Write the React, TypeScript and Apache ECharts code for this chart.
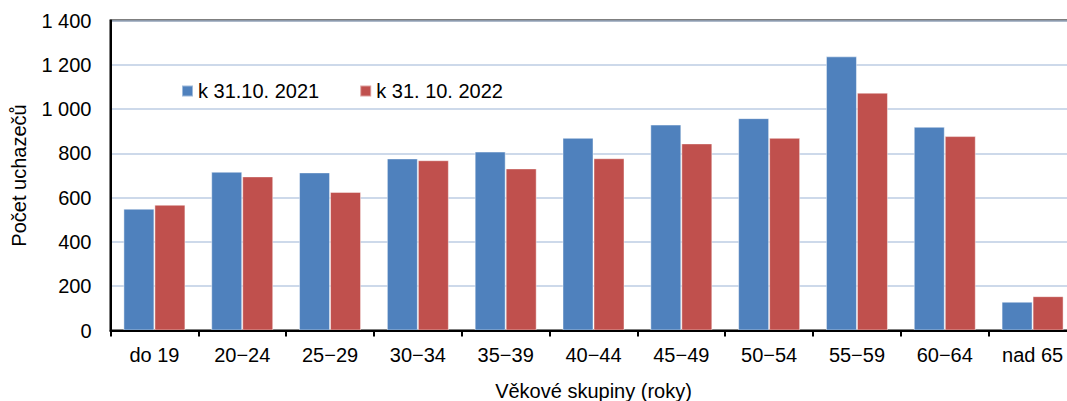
import React, { useEffect, useRef } from "react";
import * as echarts from "echarts";

const categories = ["do 19", "20−24", "25−29", "30−34", "35−39", "40−44", "45−49", "50−54", "55−59", "60−64", "nad 65"];
const series2021 = [550, 717, 714, 777, 808, 870, 930, 959, 1238, 920, 130];
const series2022 = [568, 696, 626, 769, 732, 778, 845, 870, 1074, 878, 155];
const seriesNames = ["k 31.10. 2021", "k 31. 10. 2022"];
const yTicks = { min: 0, max: 1400, interval: 200 };

const FONT = "Liberation Sans, Arial, sans-serif";

export default function App() {
  const ref = useRef<HTMLDivElement>(null);
  useEffect(() => {
    document.body.style.margin = "0";
    document.body.style.overflow = "hidden";
    if (!ref.current) return;
    const chart = echarts.init(ref.current, undefined, { renderer: "svg" });
    chart.setOption({
      animation: false,
      backgroundColor: "#ffffff",
      textStyle: { fontFamily: FONT },
      grid: {
        left: 110.5,
        top: 20.5,
        width: 966,
        bottom: 70.5,
        show: true,
        borderColor: "#000",
        borderWidth: 2,
        containLabel: false,
        outerBoundsMode: "none",
      },
      legend: {
        left: 176,
        top: 76,
        itemWidth: 11,
        itemHeight: 11,
        itemGap: 40,
        icon: "rect",
        textStyle: { fontFamily: FONT, fontSize: 20, color: "#000" },
        data: seriesNames,
      },
      xAxis: {
        type: "category",
        data: categories,
        z: 5,
        name: "Věkové skupiny (roky)",
        nameLocation: "middle",
        nameGap: 50,
        nameTextStyle: { fontFamily: FONT, fontSize: 20, color: "#000" },
        axisLine: { lineStyle: { color: "#000", width: 2 } },
        axisTick: { show: true, length: 6, lineStyle: { color: "#000", width: 2 }, alignWithLabel: false },
        axisLabel: { fontFamily: FONT, fontSize: 20, color: "#000", margin: 14, interval: 0 },
        splitLine: { show: false },
      },
      yAxis: {
        type: "value",
        min: yTicks.min,
        max: yTicks.max,
        interval: yTicks.interval,
        name: "Počet uchazečů",
        nameLocation: "middle",
        nameGap: 82,
        nameRotate: 90,
        nameTextStyle: { fontFamily: FONT, fontSize: 20, color: "#000" },
        axisLine: { show: true, lineStyle: { color: "#000", width: 2 } },
        axisTick: { show: false },
        axisLabel: {
          fontFamily: FONT,
          fontSize: 20,
          color: "#000",
          margin: 19,
          formatter: (v: number) => String(v).replace(/\B(?=(\d{3})+(?!\d))/g, " "),
        },
        splitLine: { lineStyle: { color: "#BCCDE3", width: 1.5 } },
      },
      series: [
        {
          name: seriesNames[0],
          type: "bar",
          data: series2021,
          barWidth: 31,
          barGap: "0%",
          itemStyle: { color: "#4F81BD", borderColor: "rgba(255,255,255,0.45)", borderWidth: 1 },
        },
        {
          name: seriesNames[1],
          type: "bar",
          data: series2022,
          barWidth: 31,
          barGap: "0%",
          itemStyle: { color: "#C0504D", borderColor: "rgba(255,255,255,0.45)", borderWidth: 1 },
        },
      ],
    });
    return () => chart.dispose();
  }, []);
  return <div ref={ref} style={{ width: 1067, height: 401, background: "#fff" }} />;
}
